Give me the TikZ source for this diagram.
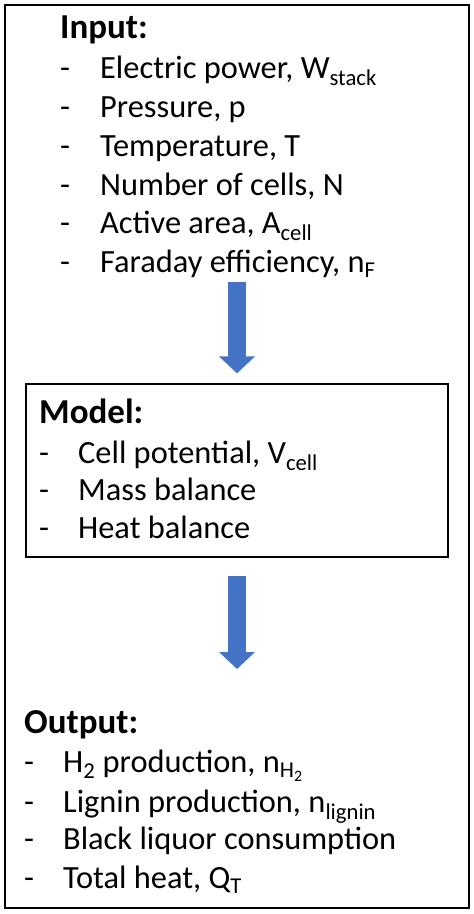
\documentclass[tikz,border=0pt]{standalone}
\usepackage{fontspec}
\setmainfont{Carlito}
\usepackage{tikz}
\usetikzlibrary{arrows.meta}
\definecolor{flowblue}{HTML}{4472C4}
\tikzset{%
    head/.style={inner sep=0pt, anchor=base west, font=\fontsize{35}{42}\selectfont\bfseries},
    item/.style={inner sep=0pt, anchor=base west, font=\fontsize{32.4}{38}\selectfont},
    blockarrow/.style={flowblue, line width=18pt,
        -{Triangle[width=35pt,length=17pt]}}
}
\newcommand{\dashitem}[2]{\makebox[#1][l]{-}#2}

\begin{document}
\begin{tikzpicture}[x=1pt,y=-1pt]
    \useasboundingbox (0,0) rectangle (474,914);
    \node[draw, line width=2pt, minimum width=464pt, minimum height=903pt] (frame) at (237,456.5) {};
    % input block
    \node[head] (inhead) at (60,38) {Input:};
    \node[item] (in1) at (60,78) {\dashitem{40pt}{Electric power, W\textsubscript{stack}}};
    \node[item] (in2) at (60,117) {\dashitem{40pt}{Pressure, p}};
    \node[item] (in3) at (60,156) {\dashitem{40pt}{Temperature, T}};
    \node[item] (in4) at (60,195) {\dashitem{40pt}{Number of cells, N}};
    \node[item] (in5) at (60,233) {\dashitem{40pt}{Active area, A\textsubscript{cell}}};
    \node[item] (in6) at (60,272) {\dashitem{40pt}{Faraday efficiency, n\textsubscript{F}}};
    % model block
    \node[draw, line width=1.2pt, minimum width=422pt, minimum height=173pt] (model) at (237,470.5) {};
    \node[head] (modhead) at (39,423) {Model:};
    \node[item] (mod1) at (39,463) {\dashitem{39pt}{Cell potential, V\textsubscript{cell}}};
    \node[item] (mod2) at (39,500) {\dashitem{39pt}{Mass balance}};
    \node[item] (mod3) at (39,538) {\dashitem{39pt}{Heat balance}};
    % output block
    \node[head] (outhead) at (24,733) {Output:};
    \node[item] (out1) at (24,772) {\dashitem{39pt}{H\textsubscript{2} production, n\textsubscript{H\textsubscript{2}}}};
    \node[item] (out2) at (24,812) {\dashitem{39pt}{Lignin production, n\textsubscript{lignin}}};
    \node[item] (out3) at (24,849) {\dashitem{39pt}{Black liquor consumption}};
    \node[item] (out4) at (24,888) {\dashitem{39pt}{Total heat, Q\textsubscript{T}}};
    % arrows
    \coordinate (a1top) at (237,282);
    \coordinate (a2top) at (237,576);
    \coordinate (a2tip) at (237,669);
    \draw[blockarrow] (a1top) -- ([yshift=10pt]model.north);
    \draw[blockarrow] (a2top) -- (a2tip);
\end{tikzpicture}
\end{document}
